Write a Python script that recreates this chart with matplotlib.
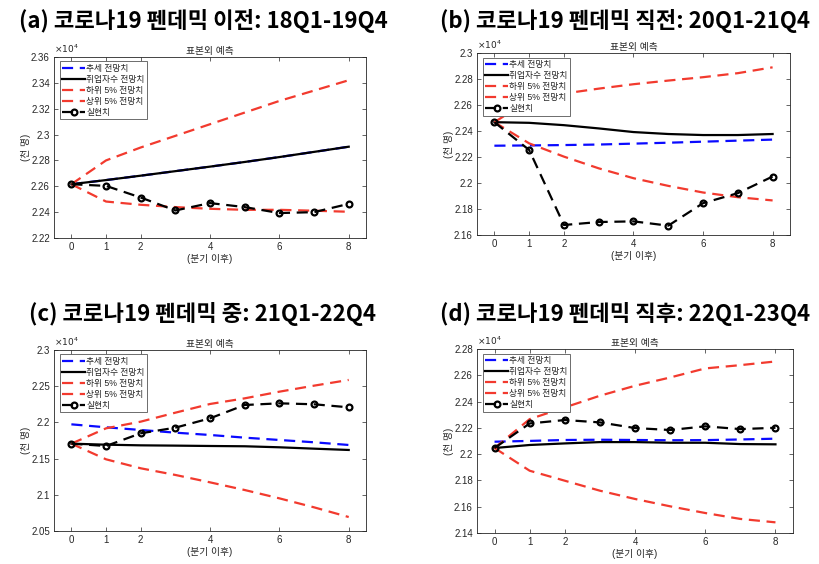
import numpy as np
import matplotlib.pyplot as plt
from matplotlib.ticker import MultipleLocator, FuncFormatter

plt.rcParams['font.family'] = ['Liberation Sans', 'Noto Sans CJK KR', 'DejaVu Sans']

# ==========================
# 데이터 (천 명)
# ==========================
quarters = [0, 1, 2, 3, 4, 5, 6, 7, 8]

panel_titles = [
    "(a) 코로나19 펜데믹 이전: 18Q1-19Q4",
    "(b) 코로나19 펜데믹 직전: 20Q1-21Q4",
    "(c) 코로나19 펜데믹 중: 21Q1-22Q4",
    "(d) 코로나19 펜데믹 직후: 22Q1-23Q4",
]

# (a) 18Q1-19Q4
trend_a = [22616, 22648, 22682, 22717, 22752, 22788, 22826, 22866, 22906]
emp_a = [22616, 22648, 22682, 22717, 22752, 22788, 22826, 22866, 22906]
low_a = [22616, 22482, 22457, 22439, 22426, 22418, 22418, 22411, 22403]
up_a = [22616, 22800, 22900, 22990, 23080, 23170, 23260, 23340, 23420]
real_a = [22616, 22603, 22513, 22413, 22470, 22439, 22393, 22400, 22464]

# (b) 20Q1-21Q4
trend_b = [22287, 22289, 22292, 22296, 22303, 22310, 22318, 22326, 22334]
emp_b = [22468, 22463, 22445, 22420, 22392, 22377, 22369, 22369, 22377]
low_b = [22468, 22305, 22203, 22113, 22037, 21978, 21927, 21891, 21866]
up_b = [22468, 22637, 22688, 22726, 22760, 22788, 22814, 22845, 22890]
real_b = [22468, 22254, 21677, 21700, 21705, 21672, 21845, 21922, 22050]

# (c) 21Q1-22Q4
trend_c = [21973, 21932, 21895, 21858, 21826, 21789, 21757, 21725, 21688]
emp_c = [21706, 21692, 21683, 21679, 21674, 21670, 21656, 21637, 21619]
low_c = [21706, 21490, 21366, 21274, 21172, 21066, 20951, 20827, 20693]
up_c = [21706, 21918, 22010, 22134, 22254, 22332, 22424, 22507, 22586]
real_c = [21706, 21674, 21849, 21927, 22056, 22240, 22263, 22250, 22208]

# (d) 22Q1-23Q4
trend_d = [22095, 22101, 22108, 22110, 22108, 22106, 22107, 22112, 22118]
emp_d = [22047, 22070, 22082, 22092, 22092, 22087, 22087, 22077, 22075]
low_d = [22047, 21874, 21798, 21722, 21659, 21603, 21552, 21507, 21481]
up_d = [22047, 22267, 22356, 22445, 22521, 22584, 22653, 22678, 22706]
real_d = [22047, 22234, 22260, 22242, 22199, 22184, 22212, 22191, 22201]

series = [
    (trend_a, emp_a, low_a, up_a, real_a),
    (trend_b, emp_b, low_b, up_b, real_b),
    (trend_c, emp_c, low_c, up_c, real_c),
    (trend_d, emp_d, low_d, up_d, real_d),
]

y_limits = [(22200, 23600), (21600, 23000), (20500, 23000), (21400, 22800)]
y_steps = [200, 200, 500, 200]

legend_labels = ["추세 전망치", "취업자수 전망치", "하위 5% 전망치", "상위 5% 전망치", "실현치"]

# 축 위치 [left, bottom, width, height]
axes_pos = [
    [0.0659, 0.578, 0.3805, 0.321],
    [0.5817, 0.5833, 0.3817, 0.3227],
    [0.0659, 0.0585, 0.3805, 0.321],
    [0.5817, 0.055, 0.3854, 0.326],
]
title_pos = [(203, 21), (625, 21), (203, 314), (625, 314)]

W, H = 820, 564
fig = plt.figure(figsize=(W / 100, H / 100), dpi=100)

red = "#f23a2e"
dash = (0, (5, 3))
grey = "#262626"

for k in range(4):
    ax = fig.add_axes(axes_pos[k])
    trend, emp, low, up, real = series[k]

    ax.plot(quarters, trend, color="#0a0aff", lw=1.6, linestyle=dash, label=legend_labels[0])
    ax.plot(quarters, emp, color="black", lw=1.6, label=legend_labels[1])
    ax.plot(quarters, low, color=red, lw=1.6, linestyle=dash, label=legend_labels[2])
    ax.plot(quarters, up, color=red, lw=1.6, linestyle=dash, label=legend_labels[3])
    ax.plot(quarters, real, color="black", lw=1.6, linestyle=dash,
            marker="o", markersize=4.2, markerfacecolor="none",
            markeredgewidth=1.6, label=legend_labels[4])

    ax.set_xlim(-0.5, 8.5)
    ax.set_ylim(*y_limits[k])
    ax.set_xticks([0, 1, 2, 4, 6, 8])
    ax.yaxis.set_major_locator(MultipleLocator(y_steps[k]))
    ax.yaxis.set_major_formatter(FuncFormatter(lambda v, p: "%g" % round(v / 1e4, 4)))

    ax.tick_params(direction="in", length=3, width=0.5, labelsize=7,
                   colors=grey, top=True, right=True, pad=3)
    for s in ax.spines.values():
        s.set_linewidth(0.6)
        s.set_color(grey)

    ax.set_title("표본외 예측", fontsize=7, color=grey, pad=2)
    ax.set_xlabel("(분기 이후)", fontsize=7, color=grey, labelpad=1)
    ax.set_ylabel("(천 명)", fontsize=7, color=grey, labelpad=0)
    ax.text(0.0, 1.01, r"$\times10^4$", transform=ax.transAxes,
            fontsize=6.5, color=grey, ha="left", va="bottom")

    leg = ax.legend(loc="upper left", bbox_to_anchor=(0.018, 0.975),
                    borderaxespad=0, fontsize=6.3, handlelength=2.6,
                    handletextpad=0.15, labelspacing=0.22, borderpad=0.3,
                    fancybox=False, framealpha=1, edgecolor="#555555")
    leg.get_frame().set_linewidth(0.6)
    for t in leg.get_texts():
        t.set_color(grey)

    tx, ty = title_pos[k]
    fig.text(tx / W, 1 - ty / H, panel_titles[k], fontsize=16,
             family=['Noto Sans CJK KR', 'DejaVu Sans'],
             fontweight="bold", ha="center", va="center")

plt.savefig("out.png", dpi=100)
plt.close()
